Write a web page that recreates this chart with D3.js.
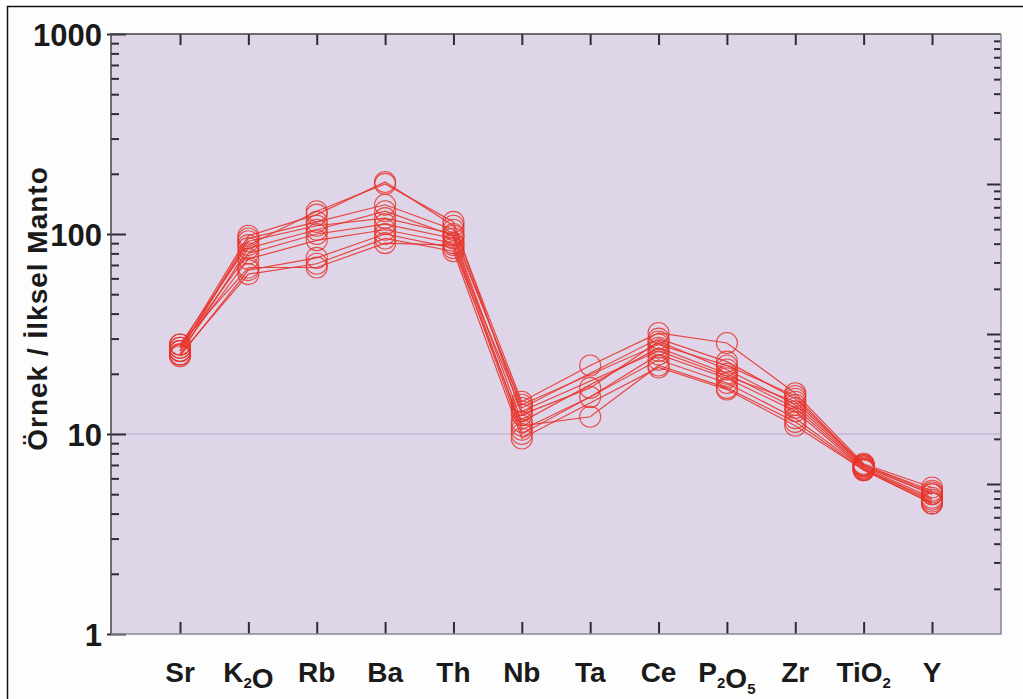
<!DOCTYPE html>
<html>
<head>
<meta charset="utf-8">
<script src="https://cdn.jsdelivr.net/npm/d3@7"></script>
<style>
  body { margin: 0; background: #fff; }
  svg text { font-family: "Liberation Sans", Arial, sans-serif; font-weight: bold; fill: #1a1a1a; }
</style>
</head>
<body>
<div id="chart"></div>
<script>
// element order on the x axis
const elements = ['Sr', 'K2O', 'Rb', 'Ba', 'Th', 'Nb', 'Ta', 'Ce', 'P2O5', 'Zr', 'TiO2', 'Y'];

// sample / primitive mantle, one array per sample (null = not analysed)
const s1  = [27,   98,  125, 182, 110, 14.5, 22,   32,   28.5, 16,   7.1, 5.4];
const s2  = [26,   95,  115, 140, 105, 13.5, null, 30,   23,   15,   7.0, 5.2];
const s3  = [28,   88,  130, 178, 115, 12.5, 17,   29,   21,   14,   6.9, 5.0];
const s4  = [25,   85,  105, 130,  98, 11.5, null, 27,   20,   13.5, 6.8, 4.8];
const s5  = [27,   80,  100, 112,  95, 10.5, 15.3, 25,   19,   13,   6.7, 4.7];
const s6  = [26,   75,   93, 105,  90, 10,   null, 23.5, 18,   12,   6.7, 4.6];
const s7  = [24.5, 66,   76, 100,  85, 11,   12.2, 22,   17,   11.5, 6.6, 4.5];
const s8  = [25,   63,   71,  95,  82,  9.5, null, 21.5, 16.7, 11,   6.6, 4.5];
const s9  = [28,   68,   68,  90,  88, 13,   null, 26,   19.5, 14.5, 7.0, 5.1];
const s10 = [26,   92,  110, 120, 100, 14,   null, 28,   22,   15.5, 6.9, 5.0];
const samples = [s1, s2, s3, s4, s5, s6, s7, s8, s9, s10];

const yTicks = [1, 10, 100, 1000];

//dimensions
const dims = { width: 1023, height: 699, left: 111, right: 1001, top: 34, bottom: 634 };

const svg = d3.select('#chart').append('svg')
    .attr('width', dims.width)
    .attr('height', dims.height);

// outer frame of the figure
svg.append('rect')
    .attr('x', 7.5).attr('y', 6.5)
    .attr('width', 1030).attr('height', 710)
    .attr('fill', '#fdfdfd')
    .attr('stroke', '#111')
    .attr('stroke-width', 1.5);

// plot background
svg.append('rect')
    .attr('x', dims.left).attr('y', dims.top)
    .attr('width', dims.right - dims.left)
    .attr('height', dims.bottom - dims.top)
    .attr('fill', '#dfd5e8');

//scales
const xScale = d3.scalePoint()
    .domain(elements)
    .range([180, 932]);

const yScale = d3.scaleLog()
    .domain([1, 1000])
    .range([dims.bottom, dims.top]);

// the right hand axis is on its own log scale (4 decades)
const yRight = d3.scaleLog()
    .domain([1, 10000])
    .range([dims.bottom, dims.top]);

const minorOf = (lo, hi) => {
    let out = [];
    for (let e = lo; e < hi; e++)
        for (let m = 2; m <= 9; m++) out.push(m * Math.pow(10, e));
    return out;
};

// grid line at 10
svg.append('line')
    .attr('x1', dims.left).attr('x2', dims.right)
    .attr('y1', yScale(10)).attr('y2', yScale(10))
    .attr('stroke', '#b3aac6')
    .attr('stroke-width', 1.2);

// left axis - minor ticks
svg.append('g')
    .attr('transform', `translate(${dims.left},0)`)
    .call(d3.axisLeft(yScale).tickValues(minorOf(0, 3)).tickSize(-8).tickFormat(''));

// left axis - majors with labels
const leftMajor = svg.append('g')
    .attr('transform', `translate(${dims.left},0)`)
    .call(d3.axisLeft(yScale).tickValues(yTicks).tickSize(-15).tickPadding(9).tickFormat(d3.format('d')));
leftMajor.selectAll('.tick').append('line')
    .attr('x1', -4).attr('x2', 0)
    .attr('stroke', '#333').attr('stroke-width', 2);
leftMajor.selectAll('.tick text')
    .style('font-size', '31px')
    .attr('dy', '0.36em');

// right axis
svg.append('g')
    .attr('transform', `translate(${dims.right},0)`)
    .call(d3.axisRight(yRight).tickValues(minorOf(0, 4)).tickSize(-7).tickFormat(''));
svg.append('g')
    .attr('transform', `translate(${dims.right},0)`)
    .call(d3.axisRight(yRight).tickValues([10, 100, 1000]).tickSize(-14).tickFormat(''));

// top and bottom category ticks
svg.append('g')
    .attr('transform', `translate(0,${dims.top})`)
    .call(d3.axisTop(xScale).tickSize(-11).tickFormat(''));
svg.append('g')
    .attr('transform', `translate(0,${dims.bottom})`)
    .call(d3.axisBottom(xScale).tickSize(-12).tickFormat(''));

svg.selectAll('.domain').remove();
svg.selectAll('.tick line')
    .attr('stroke', '#2e2a3a')
    .attr('stroke-width', 2);

// plot frame
svg.append('path')
    .attr('d', `M${dims.left},${dims.bottom}V${dims.top}H${dims.right}`)
    .attr('fill', 'none').attr('stroke', '#444').attr('stroke-width', 1.5);
svg.append('path')
    .attr('d', `M${dims.left},${dims.bottom}H${dims.right}V${dims.top}`)
    .attr('fill', 'none').attr('stroke', '#8a8792').attr('stroke-width', 1.5);

// x labels with subscripts
const xLabels = svg.append('g');
elements.forEach(el => {
    let t = xLabels.append('text')
        .attr('x', xScale(el))
        .attr('y', 682)
        .attr('text-anchor', 'middle')
        .style('font-size', '28px');
    el.match(/[A-Za-z]+|\d+/g).forEach(part => {
        if (/\d/.test(part)) {
            t.append('tspan').attr('dy', 6).style('font-size', '15px').text(part);
            t.append('tspan').attr('dy', -6).text('');
        } else {
            t.append('tspan').text(part);
        }
    });
});

// y title
svg.append('text')
    .attr('transform', `translate(47,${(157 + 460) / 2}) rotate(-90)`)
    .attr('text-anchor', 'middle')
    .style('font-size', '28px')
    .style('letter-spacing', '1px')
    .text('Örnek / İlksel Manto');

// data lines + circles
const red = '#e8352c';
const lineGen = d3.line()
    .x(d => xScale(d.el))
    .y(d => yScale(d.v));

const plot = svg.append('g');

samples.forEach(s => {
    let pts = s.map((v, i) => ({ el: elements[i], v: v })).filter(d => d.v != null);
    plot.append('path')
        .attr('d', lineGen(pts))
        .attr('fill', 'none')
        .attr('stroke', red)
        .attr('stroke-width', 1.2)
        .attr('opacity', 0.9);
});

samples.forEach(s => {
    let pts = s.map((v, i) => ({ el: elements[i], v: v })).filter(d => d.v != null);
    plot.selectAll(null)
        .data(pts)
        .enter()
        .append('circle')
        .attr('cx', d => xScale(d.el))
        .attr('cy', d => yScale(d.v))
        .attr('r', 10.5)
        .attr('fill', 'none')
        .attr('stroke', red)
        .attr('stroke-width', 1.1)
        .attr('opacity', 0.85);
});
</script>
</body>
</html>
